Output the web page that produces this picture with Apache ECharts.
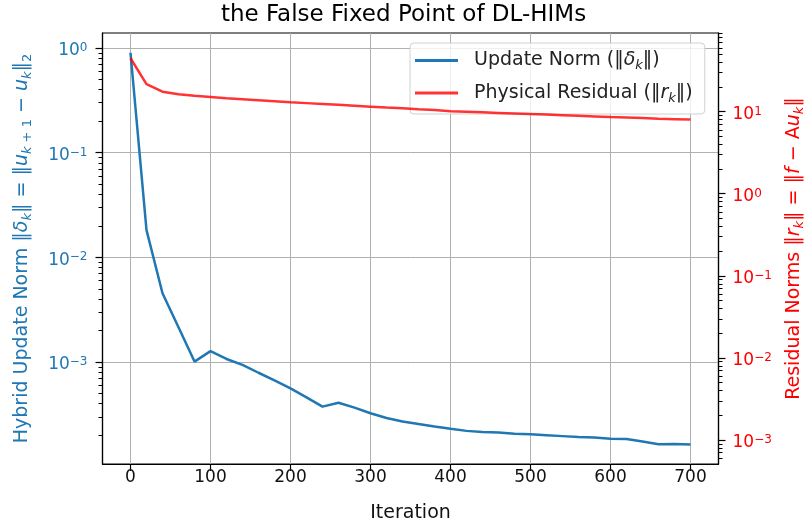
<!DOCTYPE html>
<html>
<head>
<meta charset="utf-8">
<script src="https://cdn.jsdelivr.net/npm/echarts@6/dist/echarts.min.js"></script>
<style>html,body{margin:0;padding:0;background:#fff}#chart{width:807px;height:522px}</style>
</head>
<body>
<div id="chart"></div>
<script>
// ---- data ----
const iterations = [0, 20, 40, 60, 80, 100, 120, 140, 160, 180, 200, 220, 240, 260, 280, 300, 320, 340,
  360, 380, 400, 420, 440, 460, 480, 500, 520, 540, 560, 580, 600, 620, 640, 660, 680, 700];
const updateNorm = [0.90, 0.0182, 0.00454, 0.00215, 0.00101, 0.00127, 0.00107, 0.00094, 0.00079, 0.000667,
  0.00056, 0.000459, 0.000375, 0.000408, 0.000367, 0.000324, 0.000292, 0.000270, 0.000256, 0.000242,
  0.000230, 0.000220, 0.000215, 0.000212, 0.000207, 0.000204, 0.000200, 0.000196, 0.000192, 0.000190,
  0.000185, 0.000184, 0.000174, 0.000164, 0.000165, 0.000163];
const physicalResidual = [44.7, 21.6, 17.5, 16.3, 15.6, 15.1, 14.6, 14.2, 13.8, 13.4, 13.0, 12.7, 12.4,
  12.1, 11.8, 11.5, 11.2, 11.0, 10.7, 10.45, 10.1, 9.95, 9.8, 9.65, 9.5, 9.35, 9.2, 9.05, 8.9, 8.75,
  8.6, 8.5, 8.35, 8.2, 8.1, 8.0];
const seriesNames = ['Update Norm', 'Physical Residual'];
const xTickValues = [0, 100, 200, 300, 400, 500, 600, 700];
const leftTickValues = [1, 0.1, 0.01, 0.001];
const rightTickValues = [10, 1, 0.1, 0.01, 0.001];
const titleText = 'the False Fixed Point of DL-HIMs';
const xName = 'Iteration';

// ---- axis ranges (matplotlib-like margins) ----
const xMin = -35, xMax = 735;
const leftMin = Math.pow(10, -3.974), leftMax = Math.pow(10, 0.143);
const rightMin = Math.pow(10, -3.292), rightMax = Math.pow(10, 1.958);

const FONT = 'DejaVu Sans';
const BLUE = '#1f77b4';
const RED = '#ff0000';
const RED_LINE = 'rgba(255,0,0,0.8)';
const GRID = '#b0b0b0';

function pow10Label(v) {
  const e = Math.round(Math.log10(v));
  const s = e < 0 ? '\u2212' + (-e) : String(e);
  return '{b|10}{s|' + s + '}';
}
function minorTicks(lo, hi) {
  const out = [];
  for (let e = Math.floor(Math.log10(lo)); e <= Math.ceil(Math.log10(hi)); e++) {
    for (let m = 2; m <= 9; m++) {
      const v = m * Math.pow(10, e);
      if (v >= lo && v <= hi) out.push(v);
    }
  }
  return out;
}
function powRich(color) {
  return {
    b: { fontFamily: FONT, fontSize: 17, color: color, lineHeight: 18 },
    s: { fontFamily: FONT, fontSize: 12, color: color, lineHeight: 4, verticalAlign: 'top' }
  };
}
function nameRich(color) {
  return {
    n: { fontFamily: FONT, fontSize: 19, color: color, lineHeight: 24 },
    i: { fontFamily: FONT, fontSize: 19, color: color, fontStyle: 'italic', lineHeight: 24 },
    si: { fontFamily: FONT, fontSize: 13, color: color, fontStyle: 'italic', lineHeight: 10, verticalAlign: 'bottom' },
    sn: { fontFamily: FONT, fontSize: 13, color: color, lineHeight: 10, verticalAlign: 'bottom' }
  };
}

const leftName = '{n|Hybrid Update Norm \u2016}{i|\u03b4}{si|k}{n|\u2016 = \u2016}{i|u}{si|k}{sn| + 1}{n| \u2212 }{i|u}{si|k}{n|\u2016}{sn|2}';
const rightName = '{n|Residual Norms \u2016}{i|r}{si|k}{n|\u2016 = \u2016}{i|f}{n| \u2212 A}{i|u}{si|k}{n|\u2016}';
const legendLabels = {
  'Update Norm': '{t|Update Norm (\u2016}{i|\u03b4}{k|k}{t|\u2016)}',
  'Physical Residual': '{t|Physical Residual (\u2016}{i|r}{k|k}{t|\u2016)}'
};

const chart = echarts.init(document.getElementById('chart'), null, { renderer: 'canvas' });

const option = {
  backgroundColor: '#ffffff',
  animation: false,
  title: {
    text: titleText,
    left: 'center',
    top: 0,
    padding: [4, 0, 5, 14],
    textStyle: { fontFamily: FONT, fontSize: 23, fontWeight: 'normal', color: '#000' }
  },
  grid: {
    left: 102.5, right: 88.5, top: 33, bottom: 58,
    show: true, borderColor: '#000', borderWidth: 1.2, backgroundColor: 'transparent',
    outerBoundsMode: 'none', containLabel: false
  },
  legend: {
    orient: 'vertical',
    left: 410, top: 43,
    padding: [8, 12, 9, 5],
    itemGap: 11,
    itemWidth: 43, itemHeight: 3,
    icon: 'rect',
    backgroundColor: 'rgba(255,255,255,0.8)',
    borderColor: '#d0d0d0', borderWidth: 1, borderRadius: 4,
    data: seriesNames,
    formatter: function (name) { return legendLabels[name]; },
    textStyle: {
      padding: [0, 0, 0, 11],
      rich: {
        t: { fontFamily: FONT, fontSize: 19, color: '#222', lineHeight: 24 },
        i: { fontFamily: FONT, fontSize: 19, color: '#222', fontStyle: 'italic', lineHeight: 24 },
        k: { fontFamily: FONT, fontSize: 13, color: '#222', fontStyle: 'italic', lineHeight: 10, verticalAlign: 'bottom' }
      }
    }
  },
  xAxis: {
    type: 'value', min: xMin, max: xMax,
    axisLine: { show: true, onZero: false, lineStyle: { color: '#000', width: 1.2 } },
    axisTick: { show: true, length: 7, customValues: xTickValues, lineStyle: { color: '#000', width: 1.2 } },
    axisLabel: { customValues: xTickValues, margin: 5, fontFamily: FONT, fontSize: 17, color: '#111' },
    splitLine: { show: true, lineStyle: { color: GRID, width: 1 } },
    name: xName, nameLocation: 'middle', nameGap: 40,
    nameTextStyle: { fontFamily: FONT, fontSize: 19, color: '#111' }
  },
  yAxis: [
    {
      type: 'log', logBase: 10, position: 'left', min: leftMin, max: leftMax,
      axisLine: { show: true, onZero: false, lineStyle: { color: '#000', width: 1.2 } },
      axisTick: { show: true, length: 7, customValues: leftTickValues, lineStyle: { color: '#000', width: 1.2 } },
      axisLabel: { customValues: leftTickValues, formatter: pow10Label, margin: 15, padding: [6, 0, 0, 0], rich: powRich(BLUE) },
      splitLine: { show: true, lineStyle: { color: GRID, width: 1 } },
      minorTick: { show: false }, minorSplitLine: { show: false },
      name: leftName, nameLocation: 'middle', nameRotate: 90, nameGap: 68,
      nameTextStyle: { rich: nameRich(BLUE) }
    },
    {
      type: 'log', logBase: 10, position: 'right', min: rightMin, max: rightMax,
      axisLine: { show: true, onZero: false, lineStyle: { color: '#000', width: 1.2 } },
      axisTick: { show: true, length: 7, customValues: rightTickValues, lineStyle: { color: '#000', width: 1.2 } },
      axisLabel: { customValues: rightTickValues, formatter: pow10Label, margin: 14, padding: [6, 0, 0, 0], rich: powRich(RED) },
      splitLine: { show: false },
      minorTick: { show: false },
      name: rightName, nameLocation: 'middle', nameRotate: 90, nameGap: 64,
      nameTextStyle: { rich: nameRich(RED) }
    },
    {
      type: 'log', logBase: 10, position: 'left', min: leftMin, max: leftMax,
      axisLine: { show: false, onZero: false },
      axisTick: { show: true, length: 4, customValues: minorTicks(leftMin, leftMax), lineStyle: { color: '#000', width: 1 } },
      axisLabel: { show: false },
      splitLine: { show: false }
    },
    {
      type: 'log', logBase: 10, position: 'right', min: rightMin, max: rightMax,
      axisLine: { show: false, onZero: false },
      axisTick: { show: true, length: 4, customValues: minorTicks(rightMin, rightMax), lineStyle: { color: '#000', width: 1 } },
      axisLabel: { show: false },
      splitLine: { show: false }
    }
  ],
  series: [
    {
      name: seriesNames[0], type: 'line', yAxisIndex: 0,
      data: iterations.map(function (x, i) { return [x, updateNorm[i]]; }),
      showSymbol: false, symbol: 'none',
      lineStyle: { color: BLUE, width: 2.5 },
      itemStyle: { color: BLUE }, z: 3
    },
    {
      name: seriesNames[1], type: 'line', yAxisIndex: 1,
      data: iterations.map(function (x, i) { return [x, physicalResidual[i]]; }),
      showSymbol: false, symbol: 'none',
      lineStyle: { color: RED_LINE, width: 2.5 },
      itemStyle: { color: RED_LINE }, z: 4
    }
  ]
};
chart.setOption(option);
</script>
</body>
</html>
